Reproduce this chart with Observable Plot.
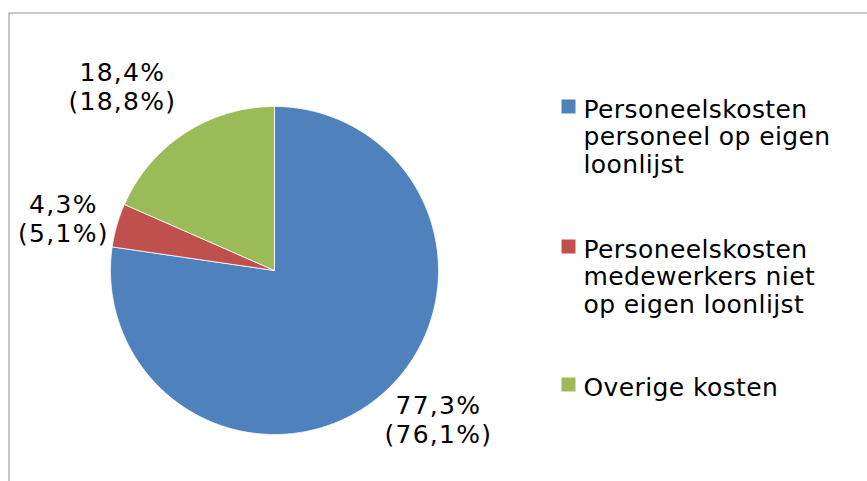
<!DOCTYPE html>
<html>
<head>
<meta charset="utf-8">
<script src="https://cdn.jsdelivr.net/npm/d3@7"></script>
<script src="https://cdn.jsdelivr.net/npm/@observablehq/plot@0.6"></script>
<style>
  html, body { margin: 0; padding: 0; background: #fff; overflow: hidden; }
  #chart svg { display: block; }
</style>
</head>
<body>
<div id="chart"></div>
<script>
// ---- data ----
const categories = [
  "Personeelskosten personeel op eigen loonlijst",
  "Personeelskosten medewerkers niet op eigen loonlijst",
  "Overige kosten"
];
const values = [77.3, 4.3, 18.4];          // current year
const previousValues = [76.1, 5.1, 18.8];  // in parentheses
const legendLabels = [
  "Personeelskosten\npersoneel op eigen\nloonlijst",
  "Personeelskosten\nmedewerkers niet\nop eigen loonlijst",
  "Overige kosten"
];
const colors = ["#4F81BD", "#C0504D", "#9BBB59"];

// ---- derived ----
const fmt = v => v.toFixed(1).replace(".", ",");
const arcs = d3.pie().sort(null).value(d => d.value)(
  categories.map((c, i) => ({category: c, value: values[i], prev: previousValues[i]}))
);
const slicePoints = [];
arcs.forEach(a => {
  const c = a.data.category;
  slicePoints.push({category: c, x: 0, y: 0});
  const n = Math.max(2, Math.ceil((a.endAngle - a.startAngle) / (Math.PI / 360)));
  for (let k = 0; k <= n; k++) {
    const t = a.startAngle + (a.endAngle - a.startAngle) * k / n;
    slicePoints.push({category: c, x: Math.sin(t), y: Math.cos(t)});
  }
  slicePoints.push({category: c, x: 0, y: 0});
});
const labels = arcs.map(a => {
  const m = (a.startAngle + a.endAngle) / 2;
  return {
    category: a.data.category,
    x: Math.sin(m), y: Math.cos(m),
    text: `${fmt(a.data.value)}%\n(${fmt(a.data.prev)}%)`
  };
});
// per-slice label offsets (style)
const labelOffsets = [[56.6, 24.8], [-53.4, -7], [-62.5, -47]];
// legend vertical offsets (style)
const legendTop = [97.25, 237.25, 375.25];

const font = "DejaVu Sans, Verdana, sans-serif";

const plot = Plot.plot({
  width: 867,
  height: 481,
  margin: 0,
  style: {fontFamily: font, background: "#fff", overflow: "visible"},
  x: {domain: [-1, 1], range: [110, 438], axis: null},
  y: {domain: [-1, 1], range: [434, 106], axis: null},
  color: {domain: categories, range: colors},
  marks: [
    Plot.frame({stroke: "#8f8f8f", strokeWidth: 1, insetLeft: 8.5, insetTop: 12.5, insetRight: -20, insetBottom: -20}),
    Plot.line(slicePoints, {
      x: "x", y: "y", z: "category", fill: "category",
      stroke: "white", strokeWidth: 0.8, curve: "linear"
    }),
    ...labels.map((l, i) => Plot.text([l], {
      x: "x", y: "y", text: "text",
      dx: labelOffsets[i][0], dy: labelOffsets[i][1],
      fontSize: 25, lineHeight: 1.15, lineAnchor: "middle", textAnchor: "middle",
      fill: "black"
    })),
    ...legendLabels.map((t, i) => Plot.dot([t], {
      frameAnchor: "top-left", dx: 568, dy: legendTop[i] + 8.75,
      symbol: "square", r: 7.9, fill: () => categories[i], stroke: null
    })),
    ...legendLabels.map((t, i) => Plot.text([t], {
      frameAnchor: "top-left", dx: 583, dy: legendTop[i],
      text: d => d, fontSize: 25, lineHeight: 1.115,
      lineAnchor: "top", textAnchor: "start", fill: "black"
    }))
  ]
});
// letter spacing (style): wider tracking like the original rendering
d3.select(plot).selectAll("text").each(function () {
  const pct = this.textContent.includes("%");
  this.style.letterSpacing = pct ? "1.3px" : "0.4px";
});
document.getElementById("chart").appendChild(plot);
</script>
</body>
</html>
